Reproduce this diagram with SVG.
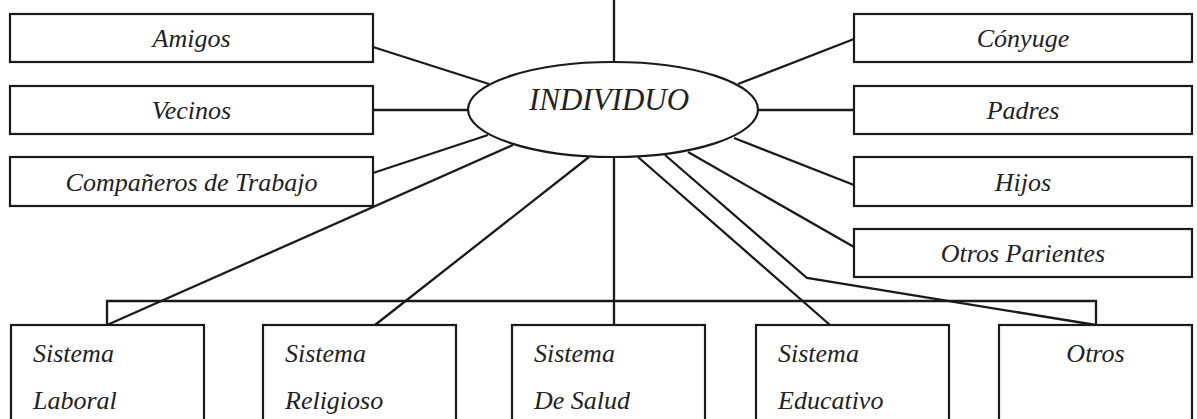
<svg xmlns="http://www.w3.org/2000/svg" width="1197" height="419" viewBox="0 0 1197 419">
<style>
.box{fill:#fff;stroke:#1a1a1a;stroke-width:2.2}
.ln{fill:none;stroke:#1a1a1a;stroke-width:2.3}
text{font-family:"Liberation Serif","Times New Roman",serif;font-style:italic;font-size:26px;fill:#222}
.c{text-anchor:middle}
</style>
<rect width="1197" height="419" fill="#fff"/>
<g id="connectors">
<line class="ln" x1="614" y1="0" x2="614" y2="62"/>
<line class="ln" x1="614" y1="158" x2="614" y2="325"/>
<line class="ln" x1="373" y1="47" x2="489" y2="84"/>
<line class="ln" x1="373" y1="110" x2="468" y2="110"/>
<line class="ln" x1="373" y1="173" x2="488" y2="135"/>
<line class="ln" x1="513" y1="145" x2="107" y2="325"/>
<line class="ln" x1="589" y1="157" x2="375" y2="325"/>
<line class="ln" x1="854" y1="39" x2="738" y2="84"/>
<line class="ln" x1="758" y1="110" x2="854" y2="110"/>
<line class="ln" x1="734" y1="138" x2="854" y2="185"/>
<line class="ln" x1="638" y1="157" x2="830" y2="325"/>
<polyline class="ln" points="665,155 807,278 1096,325"/>
<line class="ln" x1="688" y1="152" x2="854" y2="247"/>
<polyline class="ln" points="107,325 107,301 1096,301 1096,325"/>
</g>
<g id="individuo">
<ellipse class="box" cx="613" cy="109.5" rx="145" ry="47.5"/>
<text class="c" x="609" y="110" style="font-size:31px">INDIVIDUO</text>
</g>
<g id="amigos"><rect class="box" x="10" y="14" width="363" height="48"/><text class="c" x="191.5" y="47">Amigos</text></g>
<g id="vecinos"><rect class="box" x="10" y="86" width="363" height="48"/><text class="c" x="191.5" y="119">Vecinos</text></g>
<g id="companeros"><rect class="box" x="10" y="157" width="363" height="49"/><text class="c" x="191.5" y="191">Compañeros de Trabajo</text></g>
<g id="conyuge"><rect class="box" x="854" y="14" width="338" height="48"/><text class="c" x="1023" y="47">Cónyuge</text></g>
<g id="padres"><rect class="box" x="854" y="86" width="338" height="48"/><text class="c" x="1023" y="119">Padres</text></g>
<g id="hijos"><rect class="box" x="854" y="157" width="338" height="49"/><text class="c" x="1023" y="191">Hijos</text></g>
<g id="otros-parientes"><rect class="box" x="854" y="229" width="338" height="48"/><text class="c" x="1023" y="262">Otros Parientes</text></g>
<g id="laboral"><rect class="box" x="11" y="325" width="193" height="100"/><text x="33" y="362">Sistema</text><text x="33" y="409">Laboral</text></g>
<g id="religioso"><rect class="box" x="263" y="325" width="193" height="100"/><text x="285" y="362">Sistema</text><text x="285" y="409">Religioso</text></g>
<g id="salud"><rect class="box" x="512" y="325" width="193" height="100"/><text x="534" y="362">Sistema</text><text x="534" y="409">De Salud</text></g>
<g id="educativo"><rect class="box" x="756" y="325" width="193" height="100"/><text x="778" y="362">Sistema</text><text x="778" y="409">Educativo</text></g>
<g id="otros"><rect class="box" x="999" y="325" width="193" height="100"/><text class="c" x="1095.5" y="362">Otros</text></g>
</svg>
